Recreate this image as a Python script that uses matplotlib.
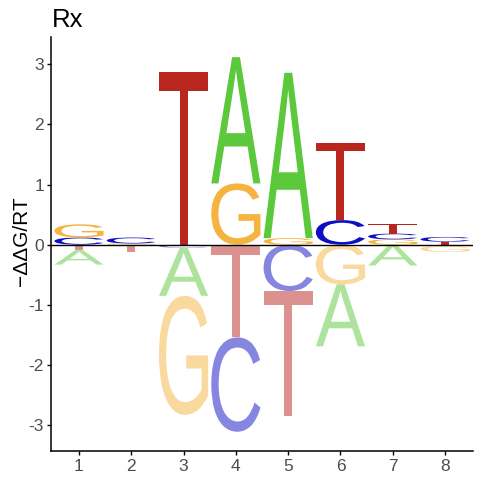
import matplotlib
matplotlib.use("Agg")
import matplotlib.pyplot as plt
from matplotlib.textpath import TextPath
from matplotlib.font_manager import FontProperties
from matplotlib.patches import PathPatch
from matplotlib.transforms import Affine2D

# ---- data (−ΔΔG/RT per base and position) ----
positions = [1, 2, 3, 4, 5, 6, 7, 8]
bases = ["A", "C", "G", "T"]
val_A = [-0.24, -0.015, -0.80, 2.10, 2.75, -1.03, -0.345, -0.02]
val_C = [0.12, 0.10, -0.05, -1.57, -0.77, 0.41, 0.095, 0.08]
val_G = [0.22, 0.02, -1.98, 1.02, 0.11, -0.66, 0.09, -0.10]
val_T = [-0.09, -0.10, 2.87, -1.54, -2.08, 1.29, 0.165, 0.05]
y_ticks = [-3, -2, -1, 0, 1, 2, 3]
title = "Rx"
ylabel = "\u2212\u0394\u0394G/RT"

colors = {"A": "#5CC83B", "C": "#0E0EC2", "G": "#F5B43F", "T": "#B8261E"}
values = {"A": val_A, "C": val_C, "G": val_G, "T": val_T}

FONT = "Liberation Sans"
fp = FontProperties(family=FONT)

fig = plt.figure(figsize=(4.8, 4.8), dpi=100)
ax = fig.add_axes([51 / 480, 29 / 480, 422 / 480, 413.7 / 480])

LW = 0.94


def draw_letter(ch, x, y0, h, color, alpha):
    tp = TextPath((0, 0), ch, size=1, prop=fp)
    bb = tp.get_extents()
    tr = (Affine2D().translate(-bb.x0, -bb.y0)
          .scale(LW / bb.width, h / bb.height)
          .translate(x - LW / 2, y0))
    path = tr.transform_path(tp)
    ax.add_patch(PathPatch(path, facecolor=color, edgecolor="none",
                           alpha=alpha, lw=0))


for i, x in enumerate(positions):
    entries = [(b, values[b][i]) for b in bases]
    pos = sorted([e for e in entries if e[1] > 0], key=lambda e: e[1])
    neg = sorted([e for e in entries if e[1] < 0], key=lambda e: -e[1])
    y = 0.0
    for b, v in pos:
        draw_letter(b, x, y, v, colors[b], 1.0)
        y += v
    y = 0.0
    for b, v in neg:
        draw_letter(b, x, y + v, -v, colors[b], 0.5)
        y += v

ax.axhline(0, color="black", lw=1.0, zorder=5)

ax.set_xlim(0.465, 8.535)
ax.set_ylim(-3.43, 3.45)
ax.set_xticks(positions)
ax.set_xticklabels([str(p) for p in positions])
ax.set_yticks(y_ticks)
ax.set_yticklabels([str(t) for t in y_ticks])

for s in ["top", "right"]:
    ax.spines[s].set_visible(False)
for s in ["left", "bottom"]:
    ax.spines[s].set_linewidth(1.1)
    ax.spines[s].set_color("black")

ax.tick_params(axis="both", length=3, width=1.0, color="black",
               labelcolor="#4D4D4D", labelsize=12.5)
ax.tick_params(axis="x", pad=2.5)
ax.tick_params(axis="y", pad=2)
for lab in ax.get_xticklabels() + ax.get_yticklabels():
    lab.set_fontfamily(FONT)

fig.text(52 / 480, 1 - 27 / 480, title, ha="left", va="baseline",
         fontsize=18.5, family=FONT, color="black")
fig.text(21.5 / 480, 1 - 241 / 480, ylabel, ha="center", va="center",
         rotation=90, fontsize=15, family=[FONT, "DejaVu Sans"], color="black")

fig.savefig("out.png", dpi=100, facecolor="white")
